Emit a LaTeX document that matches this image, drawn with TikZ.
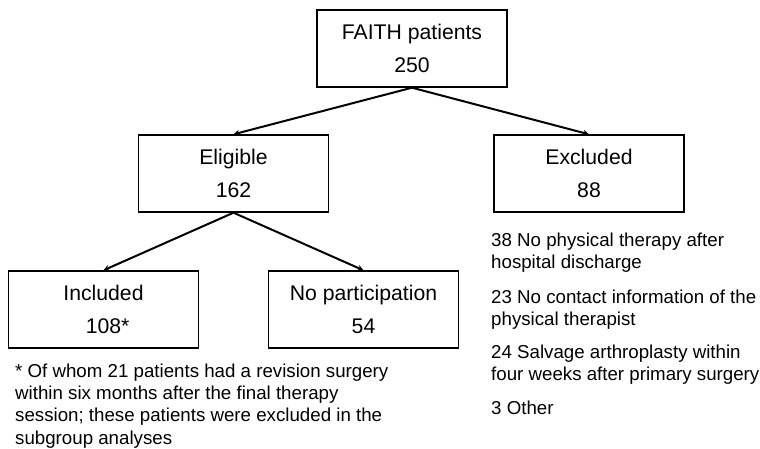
\documentclass[tikz,border=0pt]{standalone}
\usepackage{fontspec}
\setmainfont{Liberation Sans}
\usetikzlibrary{arrows.meta}

\tikzset{
	box/.style={draw, line width=1.4pt, minimum width=190pt, minimum height=77pt, inner sep=0pt, align=center, font=\fontsize{21.2}{33}\selectfont},
	note/.style={anchor=north west, inner sep=0pt, align=left, font=\fontsize{18.7}{22.3}\selectfont},
	link/.style={line width=2pt, -{Stealth[length=6pt, width=6pt]}}
}

\begin{document}
\begin{tikzpicture}[x=1pt, y=-1pt]
	\useasboundingbox (0,0) rectangle (760,448);
	\node[box] (faith) at (412,48.5) {FAITH patients\\250};
	\node[box] (elig) at (233.5,173.5) {Eligible\\162};
	\node[box] (excl) at (589,173.5) {Excluded\\88};
	\node[box] (incl) at (103.5,309.5) {Included\\\phantom{*}108*};
	\node[box] (nopart) at (363.5,309.5) {No participation\\54};
	\draw[link] (faith.south) -- (elig.north);
	\draw[link] (faith.south) -- (excl.north);
	\draw[link] (elig.south) -- (incl.north);
	\draw[link] (elig.south) -- (nopart.north);
	% reasons for exclusion
	\node[note] (r1) at (491,232.5) {38 No physical therapy after\\hospital discharge};
	\node[note] (r2) at (491,289.5) {23 No contact information of the\\physical therapist};
	\node[note] (r3) at (491,344.5) {24 Salvage arthroplasty within\\four weeks after primary surgery};
	\node[note] (r4) at (491,400.5) {3 Other};
	% footnote
	\node[note] (foot) at (15,363.5) {* Of whom 21 patients had a revision surgery\\within six months after the final therapy\\session; these patients were excluded in the\\subgroup analyses};
\end{tikzpicture}
\end{document}
